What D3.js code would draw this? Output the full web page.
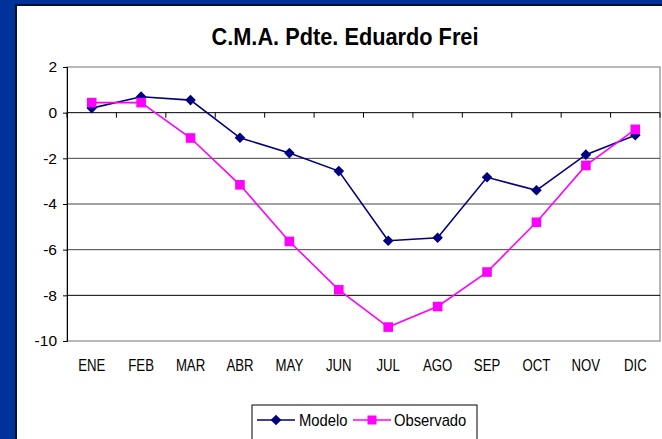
<!DOCTYPE html>
<html>
<head>
<meta charset="utf-8">
<script src="https://cdn.jsdelivr.net/npm/d3@7"></script>
<style>
  html, body { margin: 0; padding: 0; background: #003399; }
  svg { display: block; font-family: Arial, "Liberation Sans", sans-serif; }
</style>
</head>
<body>
<figure id="chart" style="margin:0"></figure>
<script>
// months on the category axis
const months = ["ENE", "FEB", "MAR", "ABR", "MAY", "JUN", "JUL", "AGO", "SEP", "OCT", "NOV", "DIC"]
// series
const modelo = [0.2, 0.7, 0.55, -1.1, -1.77, -2.56, -5.61, -5.48, -2.83, -3.4, -1.84, -0.99]
const observado = [0.44, 0.44, -1.11, -3.16, -5.64, -7.76, -9.39, -8.49, -6.98, -4.8, -2.31, -0.73]
const yTicks = [2, 0, -2, -4, -6, -8, -10]
const title = "C.M.A. Pdte. Eduardo Frei"

const W = 662, H = 439
const plot = {left: 67, right: 660, top: 67, bottom: 341}

const svg = d3.select("figure#chart").append("svg")
  .attr("width", W)
  .attr("height", H)

// blue slide background
svg.append("rect").attr("width", W).attr("height", H).attr("fill", "#003399")
// shadow + white chart panel
svg.append("rect").attr("x", 15).attr("y", 4).attr("width", W).attr("height", H).attr("fill", "#0a0f2a")
svg.append("rect").attr("x", 17).attr("y", 6).attr("width", W).attr("height", H).attr("fill", "#fff")

const x = d3.scaleBand().domain(months).range([plot.left, plot.right])
const y = d3.scaleLinear().domain([-10, 2]).range([plot.bottom, plot.top])
const cx = d => x(d) + x.bandwidth() / 2

// plot border
svg.append("rect")
  .attr("x", plot.left).attr("y", plot.top)
  .attr("width", plot.right - plot.left).attr("height", plot.bottom - plot.top)
  .attr("fill", "none").attr("stroke", "#8a8a8a").attr("stroke-width", 1.2)

// gridlines
svg.append("g").selectAll("line")
  .data(yTicks.filter(t => t !== 2 && t !== -10))
  .join("line")
    .attr("x1", plot.left).attr("x2", plot.right)
    .attr("y1", d => y(d)).attr("y2", d => y(d))
    .attr("stroke", d => (d === 0 || d === -8) ? "#000" : "#444")
    .attr("stroke-width", 1)

// y axis
const yAxis = d3.axisLeft(y).tickValues(yTicks).tickSize(4).tickPadding(6).tickFormat(d3.format("d"))
svg.append("g")
  .attr("transform", `translate(${plot.left},0)`)
  .call(yAxis)
  .call(g => g.select(".domain").attr("stroke", "#000"))
  .call(g => g.selectAll("line").attr("stroke", "#000"))
  .selectAll("text")
    .attr("fill", "#000")
    .style("font-size", "15.5px")
    .text(d => d < 0 ? "-" + Math.abs(d) : d)

// category axis sits on zero, ticks at the band edges
const edges = months.map(m => x(m)).concat([plot.right])
svg.append("g").selectAll("line")
  .data(edges)
  .join("line")
    .attr("x1", d => d).attr("x2", d => d)
    .attr("y1", y(0)).attr("y2", y(0) + 5)
    .attr("stroke", "#000")

svg.append("g").selectAll("text")
  .data(months)
  .join("text")
    .attr("transform", d => `translate(${cx(d)},371) scale(0.8,1)`)
    .attr("text-anchor", "middle")
    .style("font-size", "16.5px")
    .attr("fill", "#000")
    .text(d => d)

// series
const line = d3.line().x((d, i) => cx(months[i])).y(d => y(d))

svg.append("path")
  .datum(modelo)
  .attr("fill", "none")
  .attr("stroke", "#000080")
  .attr("stroke-width", 1.6)
  .attr("d", line)

svg.append("path")
  .datum(observado)
  .attr("fill", "none")
  .attr("stroke", "#ff00ff")
  .attr("stroke-width", 1.6)
  .attr("d", line)

const diamond = d3.symbol().type(d3.symbolDiamond2).size(72)

svg.append("g").selectAll("path")
  .data(modelo)
  .join("path")
    .attr("transform", (d, i) => `translate(${cx(months[i])},${y(d)})`)
    .attr("d", diamond)
    .attr("fill", "#000080")

svg.append("g").selectAll("rect")
  .data(observado)
  .join("rect")
    .attr("x", (d, i) => cx(months[i]) - 4.8)
    .attr("y", d => y(d) - 4.8)
    .attr("width", 9.6).attr("height", 9.6)
    .attr("fill", "#ff00ff")

// title
svg.append("text")
  .attr("x", 345)
  .attr("y", 45)
  .attr("text-anchor", "middle")
  .attr("textLength", 267)
  .attr("lengthAdjust", "spacingAndGlyphs")
  .style("font-size", "23px")
  .style("font-weight", "bold")
  .attr("fill", "#000")
  .text(title)

// legend
const leg = svg.append("g")
leg.append("rect")
  .attr("x", 252).attr("y", 405).attr("width", 225).attr("height", 45)
  .attr("fill", "#fff").attr("stroke", "#000").attr("stroke-width", 1)

const legItems = [
  {name: "Modelo", color: "#000080", x0: 257, text: 299},
  {name: "Observado", color: "#ff00ff", x0: 353, text: 394}
]
legItems.forEach((it, k) => {
  leg.append("line")
    .attr("x1", it.x0).attr("x2", it.x0 + 38)
    .attr("y1", 420).attr("y2", 420)
    .attr("stroke", it.color).attr("stroke-width", 1.6)
  if (k === 0) {
    leg.append("path")
      .attr("transform", `translate(${it.x0 + 19},420)`)
      .attr("d", diamond)
      .attr("fill", it.color)
  } else {
    leg.append("rect")
      .attr("x", it.x0 + 19 - 4.5).attr("y", 420 - 4.5)
      .attr("width", 9).attr("height", 9)
      .attr("fill", it.color)
  }
  leg.append("text")
    .attr("transform", `translate(${it.text},426) scale(0.87,1)`)
    .style("font-size", "17px")
    .attr("fill", "#000")
    .text(it.name)
})
</script>
</body>
</html>
